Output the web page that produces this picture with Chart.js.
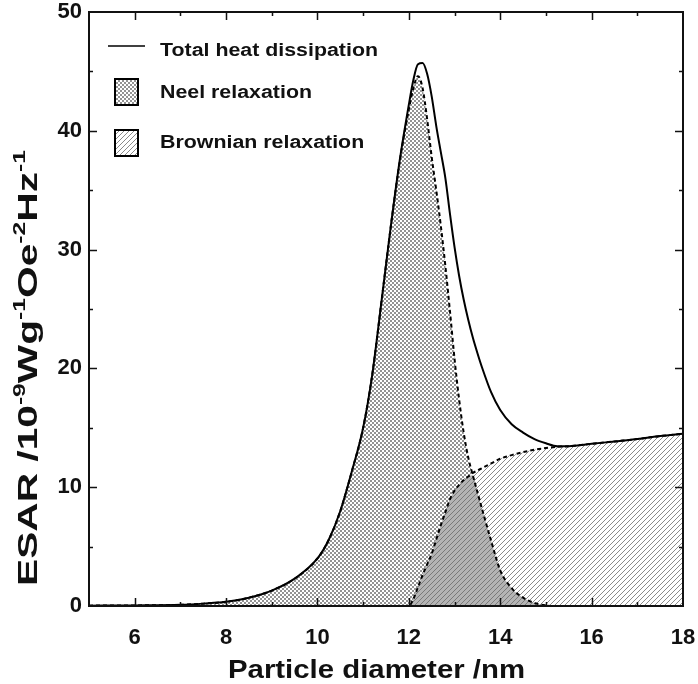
<!DOCTYPE html>
<html>
<head>
<meta charset="utf-8">
<script src="https://cdn.jsdelivr.net/npm/chart.js@4.4.1/dist/chart.umd.min.js"></script>
<style>
  html, body { margin: 0; padding: 0; background: #fff; }
</style>
</head>
<body>
<canvas id="myChart" width="698" height="684"></canvas>
<script>
// particle diameter (nm) sample points shared by all curves
const diameters = [5, 6, 7, 7.5, 8, 8.5, 9, 9.5, 10, 10.25, 10.5, 10.75, 11, 11.2, 11.4, 11.6, 11.8, 12,
  12.1, 12.2, 12.3, 12.4, 12.5, 12.6, 12.7, 12.8, 12.9, 13, 13.1, 13.2, 13.3, 13.4, 13.5, 13.6, 13.8, 14,
  14.25, 14.5, 14.75, 15, 15.25, 15.5, 16, 16.5, 17, 17.5, 18];

const totalValues = [0.03, 0.05, 0.1, 0.2, 0.35, 0.7, 1.3, 2.3, 4.0, 5.6, 8.0, 11.3, 15.0, 19.5, 25.6, 31.8, 37.5, 42.2,
  44.3, 45.6, 45.7, 44.8, 42.9, 40.4, 38.2, 36.0, 33.0, 30.2, 27.8, 25.8, 24.1, 22.6, 21.3, 20.1, 18.0, 16.5,
  15.3, 14.6, 14.05, 13.7, 13.45, 13.45, 13.65, 13.85, 14.05, 14.3, 14.5];

const neelValues = [0.03, 0.05, 0.1, 0.2, 0.35, 0.7, 1.3, 2.3, 4.0, 5.6, 8.0, 11.3, 15.0, 19.5, 25.6, 31.8, 37.4, 41.8,
  43.6, 44.6, 43.6, 41.0, 37.8, 35.0, 32.0, 28.6, 24.8, 20.8, 17.4, 14.6, 12.5, 11.0, 9.6, 8.2, 5.5, 3.0,
  1.5, 0.7, 0.25, 0.05, 0, 0, 0, 0, 0, 0, 0];

const brownValues = [0, 0, 0, 0, 0, 0, 0, 0, 0, 0, 0, 0, 0, 0, 0, 0, 0, 0,
  0.6, 1.6, 2.6, 3.5, 4.4, 5.6, 6.8, 7.9, 9.0, 9.7, 10.2, 10.6, 10.9, 11.2, 11.4, 11.6, 12.0, 12.4,
  12.7, 12.95, 13.15, 13.3, 13.4, 13.45, 13.65, 13.85, 14.05, 14.3, 14.5];

const xTickLabels = [6, 8, 10, 12, 14, 16, 18];
const yTickLabels = [0, 10, 20, 30, 40, 50];
const seriesNames = ["Total heat dissipation", "Neel relaxation", "Brownian relaxation"];

const FONT = '"Liberation Sans", Arial, sans-serif';
Chart.defaults.font.family = FONT;

// fill patterns
function makePattern(size, draw) {
  const c = document.createElement('canvas');
  c.width = size; c.height = size;
  const g = c.getContext('2d');
  draw(g, size);
  return g.createPattern(c, 'repeat');
}
function stripes(bg, fg) {
  return makePattern(5, (g, s) => {
    g.fillStyle = bg; g.fillRect(0, 0, s, s);
    g.strokeStyle = fg; g.lineWidth = 1;
    g.beginPath();
    g.moveTo(-1, s + 1); g.lineTo(s + 1, -1);
    g.moveTo(-1, 1); g.lineTo(1, -1);
    g.moveTo(s - 1, s + 1); g.lineTo(s + 1, s - 1);
    g.stroke();
  });
}
const neelFill = makePattern(4, (g) => {
  g.fillStyle = '#939393'; g.fillRect(0, 0, 4, 4);
  g.fillStyle = '#ffffff'; g.fillRect(0, 0, 2, 2); g.fillRect(2, 2, 2, 2);
});
const brownFill = stripes('#ffffff', '#8a8a8a');
const overlapFill = stripes('#b4b4b4', '#7a7a7a');

const toPoints = arr => diameters.map((d, i) => ({ x: d, y: arr[i] }));
const overlapValues = neelValues.map((v, i) => Math.min(v, brownValues[i]));

// frame + inward ticks on all four sides
const framePlugin = {
  id: 'frame',
  afterDatasetsDraw(chart) {
    const { ctx, chartArea: a, scales: { x, y } } = chart;
    ctx.save();
    ctx.strokeStyle = '#111';
    ctx.lineWidth = 1.5;
    ctx.beginPath();
    for (let v = Math.ceil(x.min); v <= x.max; v++) {
      if (v === x.min || v === x.max) continue;
      const px = Math.round(x.getPixelForValue(v)) + 0.5;
      const len = v % 2 === 0 ? 8 : 4;
      ctx.moveTo(px, a.bottom); ctx.lineTo(px, a.bottom - len);
      ctx.moveTo(px, a.top); ctx.lineTo(px, a.top + len);
    }
    for (let v = y.min + 5; v < y.max; v += 5) {
      const py = Math.round(y.getPixelForValue(v)) + 0.5;
      const len = v % 10 === 0 ? 8 : 4;
      ctx.moveTo(a.left, py); ctx.lineTo(a.left + len, py);
      ctx.moveTo(a.right, py); ctx.lineTo(a.right - len, py);
    }
    ctx.stroke();
    ctx.lineWidth = 2;
    ctx.strokeRect(a.left, a.top, a.right - a.left, a.bottom - a.top);
    ctx.restore();
  }
};

// draws text pieces (some superscript) squeezed/stretched to a width
function drawRich(ctx, parts, size, width) {
  const sup = Math.round(size * 0.62);
  let natural = 0;
  parts.forEach(p => {
    ctx.font = 'bold ' + (p[1] ? sup : size) + 'px ' + FONT;
    natural += ctx.measureText(p[0]).width;
  });
  ctx.scale(width / natural, 1);
  let cx = 0;
  parts.forEach(p => {
    ctx.font = 'bold ' + (p[1] ? sup : size) + 'px ' + FONT;
    ctx.fillText(p[0], cx, p[1] ? -size * 0.42 : 0);
    cx += ctx.measureText(p[0]).width;
  });
}

const labelsPlugin = {
  id: 'labels',
  afterDraw(chart) {
    const ctx = chart.ctx;
    ctx.save();
    ctx.fillStyle = '#111';
    ctx.textBaseline = 'alphabetic';
    ctx.textAlign = 'left';

    // x title
    ctx.save();
    ctx.translate(228, 678);
    drawRich(ctx, [["Particle diameter /nm", false]], 26, 297);
    ctx.restore();

    // y title
    ctx.save();
    ctx.translate(37, 586);
    ctx.rotate(-Math.PI / 2);
    drawRich(ctx, [["ESAR /10", false], ["-9", true], ["Wg", false], ["-1", true],
      ["Oe", false], ["-2", true], ["Hz", false], ["-1", true]], 28, 436);
    ctx.restore();

    // legend
    const ds = chart.data.datasets;
    ctx.strokeStyle = '#000';
    ctx.lineWidth = 1.5;
    ctx.beginPath(); ctx.moveTo(108, 46); ctx.lineTo(145, 46); ctx.stroke();
    const boxes = [[ds[3], 79], [ds[2], 130]];
    boxes.forEach(([d, top]) => {
      ctx.fillStyle = d.backgroundColor;
      ctx.fillRect(115, top, 23, 26);
      ctx.lineWidth = 2;
      ctx.strokeRect(115, top, 23, 26);
    });
    ctx.fillStyle = '#111';
    ctx.font = 'bold 18px ' + FONT;
    const sx = 218 / ctx.measureText(seriesNames[0]).width;
    [[seriesNames[0], 56], [seriesNames[1], 98], [seriesNames[2], 148]].forEach(([t, base]) => {
      ctx.save();
      ctx.translate(160, base);
      ctx.scale(sx, 1);
      ctx.fillText(t, 0, 0);
      ctx.restore();
    });
    ctx.restore();
  }
};

const tickFont = { size: 22, weight: 'bold', family: FONT };

new Chart(document.getElementById('myChart'), {
  type: 'line',
  data: {
    datasets: [
      {
        label: seriesNames[0],
        data: toPoints(totalValues),
        borderColor: '#000',
        borderWidth: 2,
        fill: false,
        order: 0
      },
      {
        label: 'overlap',
        data: toPoints(overlapValues),
        borderColor: 'rgba(0,0,0,0)',
        borderWidth: 0,
        backgroundColor: overlapFill,
        fill: 'origin',
        order: 1
      },
      {
        label: seriesNames[2],
        data: toPoints(brownValues),
        borderColor: '#000',
        borderWidth: 2,
        borderDash: [4, 3],
        backgroundColor: brownFill,
        fill: 'origin',
        order: 2
      },
      {
        label: seriesNames[1],
        data: toPoints(neelValues),
        borderColor: '#000',
        borderWidth: 2,
        borderDash: [4, 3],
        backgroundColor: neelFill,
        fill: 'origin',
        order: 3
      }
    ]
  },
  options: {
    responsive: false,
    animation: false,
    elements: {
      point: { radius: 0, hoverRadius: 0 },
      line: { cubicInterpolationMode: 'monotone' }
    },
    layout: { padding: { top: 12, right: 15, left: 0, bottom: 0 } },
    plugins: {
      legend: { display: false },
      tooltip: { enabled: false },
      filler: { drawTime: 'beforeDatasetsDraw' }
    },
    scales: {
      x: {
        type: 'linear',
        min: 5,
        max: 18,
        grid: { display: false, drawTicks: false },
        border: { display: false },
        ticks: { font: tickFont, color: '#111', padding: 19, maxRotation: 0 },
        afterBuildTicks: s => { s.ticks = xTickLabels.map(v => ({ value: v })); },
        afterFit: s => { s.height = 78; s.paddingLeft = 0; s.paddingRight = 0; }
      },
      y: {
        type: 'linear',
        min: 0,
        max: 50,
        grid: { display: false, drawTicks: false },
        border: { display: false },
        ticks: { font: tickFont, color: '#111', padding: 7 },
        afterBuildTicks: s => { s.ticks = yTickLabels.map(v => ({ value: v })); },
        afterFit: s => { s.width = 89; s.paddingTop = 0; s.paddingBottom = 0; }
      }
    }
  },
  plugins: [framePlugin, labelsPlugin]
});
</script>
</body>
</html>
